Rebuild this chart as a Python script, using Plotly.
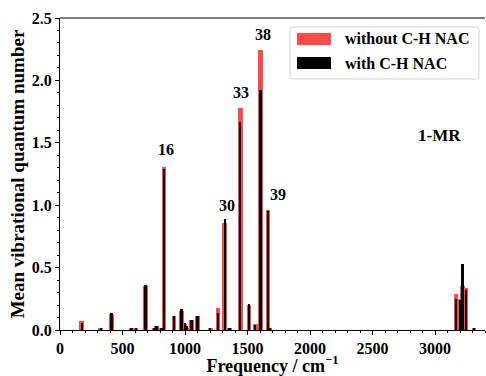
import plotly.graph_objects as go

# Mode frequencies (cm^-1) and mean vibrational quantum numbers
freq = [173, 325, 412, 572, 607, 684, 753, 771, 811, 830, 910, 971, 998, 1017,
        1051, 1099, 1202, 1264, 1317, 1355, 1442, 1511, 1562, 1604, 1663, 1676,
        3166, 3198, 3219, 3245, 3312]
without_nac = [0.07, 0.02, 0.13, 0.01, 0.01, 0.35, 0.02, 0.03, 0.02, 1.31, 0.11,
               0.15, 0.05, 0.02, 0.08, 0.11, 0.02, 0.18, 0.86, 0.02, 1.78, 0.20,
               0.05, 2.24, 0.96, 0.01, 0.29, 0.25, 0.35, 0.34, 0.02]
with_nac = [0.06, 0.02, 0.14, 0.01, 0.01, 0.36, 0.02, 0.03, 0.02, 1.29, 0.11,
            0.17, 0.06, 0.03, 0.08, 0.11, 0.02, 0.14, 0.89, 0.02, 1.67, 0.21,
            0.04, 1.92, 0.95, 0.01, 0.25, 0.24, 0.53, 0.32, 0.02]

# Axis ticks
x_ticks = [0, 500, 1000, 1500, 2000, 2500, 3000]
y_ticks = [0.0, 0.5, 1.0, 1.5, 2.0, 2.5]

# Mode labels placed above the strongest bands
mode_labels = ["16", "30", "33", "38", "39"]
mode_label_x = [850, 1335, 1445, 1620, 1745]
mode_label_y = [1.36, 0.91, 1.82, 2.28, 1.00]

RED = "#ff4a4a"
FONT = "Liberation Serif"

fig = go.Figure()
fig.add_trace(go.Bar(x=freq, y=without_nac, width=36, marker_color=RED,
                     marker_line_width=0, name="without C-H NAC", showlegend=False))
fig.add_trace(go.Bar(x=freq, y=with_nac, width=18, marker_color="black",
                     marker_line_width=0, name="with C-H NAC", showlegend=False))

for t, x, y in zip(mode_labels, mode_label_x, mode_label_y):
    fig.add_annotation(x=x, y=y, text=f"<b>{t}</b>", showarrow=False,
                       xanchor="center", yanchor="bottom",
                       font=dict(family=FONT, size=16, color="black"))

fig.add_annotation(x=0.893, y=0.623, xref="paper", yref="paper", text="<b>1-MR</b>",
                   showarrow=False, xanchor="center", yanchor="middle",
                   font=dict(family=FONT, size=17, color="black"))

# Legend box drawn in paper coordinates
def px_x(p):
    return (p - 60) / 425.0

def px_y(p):
    return (330 - p) / 312.0

x0, x1, y0, y1, r = 290, 479, 27, 79, 3
path = (f"M {px_x(x0 + r)},{px_y(y0)} L {px_x(x1 - r)},{px_y(y0)} "
        f"Q {px_x(x1)},{px_y(y0)} {px_x(x1)},{px_y(y0 + r)} "
        f"L {px_x(x1)},{px_y(y1 - r)} Q {px_x(x1)},{px_y(y1)} {px_x(x1 - r)},{px_y(y1)} "
        f"L {px_x(x0 + r)},{px_y(y1)} Q {px_x(x0)},{px_y(y1)} {px_x(x0)},{px_y(y1 - r)} "
        f"L {px_x(x0)},{px_y(y0 + r)} Q {px_x(x0)},{px_y(y0)} {px_x(x0 + r)},{px_y(y0)} Z")
fig.add_shape(type="path", path=path, xref="paper", yref="paper",
              line=dict(color="#d6d6d6", width=1), fillcolor="rgba(255,255,255,0.85)")
legend_items = [("without C-H NAC", RED, 33, 45, 39), ("with C-H NAC", "black", 57, 69, 63)]
for label, color, top, bot, mid in legend_items:
    fig.add_shape(type="rect", xref="paper", yref="paper",
                  x0=px_x(297), x1=px_x(331), y0=px_y(bot), y1=px_y(top),
                  fillcolor=color, line_width=0)
    fig.add_annotation(x=px_x(343), y=px_y(mid), xref="paper", yref="paper",
                       text=f"<b>{label}</b>", showarrow=False, xanchor="left",
                       yanchor="middle", font=dict(family=FONT, size=16, color="black"))

# Top spine
fig.add_shape(type="line", xref="paper", yref="paper", x0=0, x1=1, y0=1, y1=1,
              line=dict(color="black", width=1))

tick_font = dict(family=FONT, size=16, color="black", weight=700)

fig.update_layout(
    width=486, height=376,
    margin=dict(l=60, r=1, t=18, b=46),
    paper_bgcolor="white", plot_bgcolor="white",
    barmode="overlay", bargap=0,
    font=dict(family=FONT, color="black"),
)
fig.update_xaxes(
    range=[0, 3400], tickvals=x_ticks, ticktext=[f"<b>{v}</b>" for v in x_ticks],
    ticks="outside", ticklen=4, tickwidth=1, tickcolor="black",
    showline=True, linecolor="black", linewidth=1, showgrid=False, zeroline=False,
    tickfont=tick_font,
    minor=dict(dtick=100, ticks="outside", ticklen=2, tickcolor="black", showgrid=False),
    title=dict(text="<b>Frequency / cm<sup>−1</sup></b>", standoff=5,
               font=dict(family=FONT, size=18, color="black")),
)
fig.update_yaxes(
    range=[0, 2.5], tickvals=y_ticks, ticktext=[f"<b>{v:.1f}</b>" for v in y_ticks],
    ticks="outside", ticklen=4, tickwidth=1, tickcolor="black",
    showline=True, linecolor="black", linewidth=1, showgrid=False, zeroline=False,
    tickfont=tick_font,
    minor=dict(dtick=0.1, ticks="outside", ticklen=2, tickcolor="black", showgrid=False),
    title=dict(text="<b>Mean vibrational quantum number</b>", standoff=2,
               font=dict(family=FONT, size=19, color="black")),
)

fig.write_html("out.html")
